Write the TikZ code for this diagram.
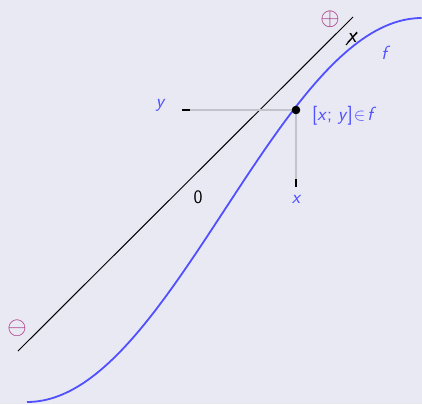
\documentclass[tikz,border=0pt]{standalone}
\usepackage{fontspec}
\setsansfont{Latin Modern Sans}
\definecolor{bg}{RGB}{233,233,244}
\definecolor{fblue}{RGB}{80,80,255}
\definecolor{signc}{RGB}{165,40,120}
\definecolor{guide}{RGB}{195,195,205}
\begin{document}
\begin{tikzpicture}[x=1pt,y=-1pt,
  lbl/.style={font=\sffamily\fontsize{19}{22}\selectfont, inner sep=0pt},
  bluelbl/.style={lbl, text=fblue},
  signlbl/.style={inner sep=0pt, text=signc, font=\fontsize{26}{30}\selectfont},
  guideline/.style={draw=guide, line width=1.2pt},
  tick/.style={draw=black, line width=1.6pt}]
\fill[bg] (0,0) rectangle (422,404);
\useasboundingbox (0,0) rectangle (422,404);
% identity-like line
\coordinate (lineA) at (18,351);
\coordinate (lineB) at (353,17);
\draw[black, line width=1pt] (lineA) -- (lineB);
% curve f
\draw[fblue, line width=1.8pt, domain=-1:1, samples=100, smooth, variable=\t]
  plot ({224.5+197.5*\t}, {210-192*sin(90*\t)});
% point and guides
\coordinate (P) at (296,110);
\coordinate (ytick) at (190,110);
\coordinate (ytickL) at (182,110);
\coordinate (xtick) at (296,179);
\coordinate (xtickB) at (296,187);
\draw[guideline] (ytick) -- (P);
\draw[guideline] (P) -- (xtick);
\draw[tick] (ytickL) -- (ytick);
\draw[tick] (xtick) -- (xtickB);
\fill[black] (P) circle (4.3);
% labels
\node[bluelbl] (ylab) at (160,105) {\itshape y};
\node[bluelbl] (xlab) at (296,199) {\itshape x};
\node[bluelbl, anchor=west] (plab) at (312,116) {[\textit{x}; \textit{y}]\kern1pt$\in$\kern2pt\textit{f}};
\node[bluelbl] (flab) at (384,53) {\itshape f};
\node[lbl] (zero) at (198,197) {0};
\node[signlbl] (plus) at (330,19) {$\oplus$};
\node[signlbl] (minus) at (17,328) {$\ominus$};
\node[lbl, font=\sffamily\fontsize{21}{24}\selectfont] (xcross) at (352,38) {\itshape x};
\coordinate (slashA) at (346,45);
\coordinate (slashB) at (357,32);
\draw[black, line width=1.1pt] (slashA) -- (slashB);
\end{tikzpicture}
\end{document}
